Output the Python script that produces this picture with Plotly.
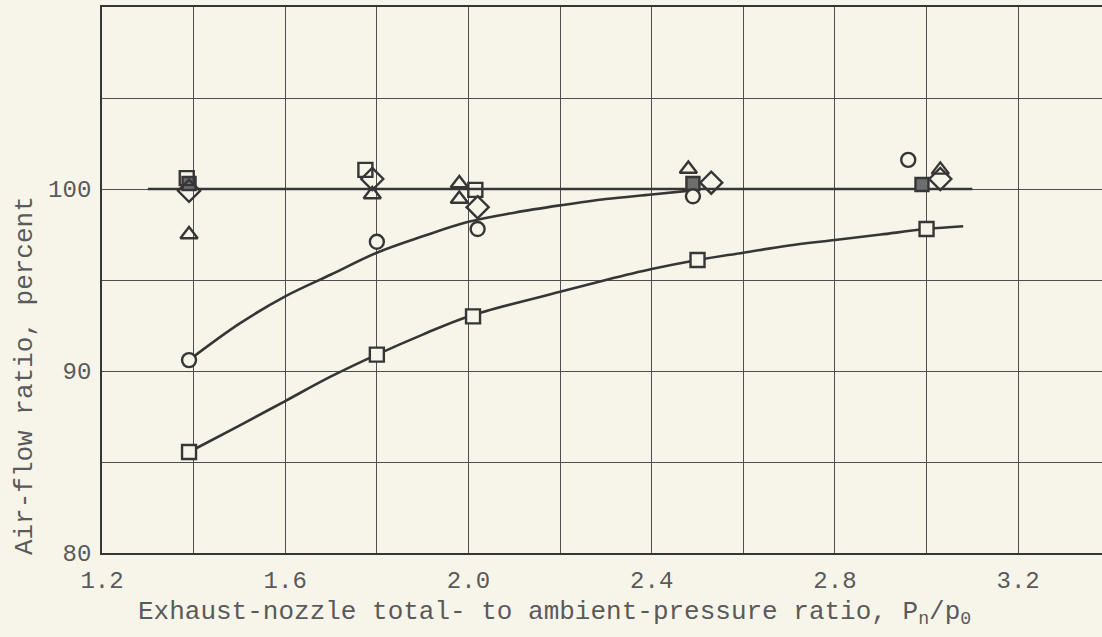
import plotly.graph_objects as go

# ---- data ----
# reference line at 100 percent
ref_x = [1.30, 3.10]
ref_y = [100.0, 100.0]

# faired curve through circle data
circ_curve_x = [1.39, 1.50, 1.60, 1.70, 1.80, 1.90, 2.00, 2.10, 2.20, 2.30, 2.40, 2.50]
circ_curve_y = [90.6, 92.6, 94.1, 95.3, 96.5, 97.4, 98.2, 98.7, 99.1, 99.45, 99.7, 99.95]

# faired curve through lower square data
sq_curve_x = [1.39, 1.50, 1.60, 1.70, 1.80, 1.90, 2.00, 2.20, 2.30, 2.40, 2.50, 2.60, 2.70, 2.80, 2.90, 3.00, 3.08]
sq_curve_y = [85.55, 87.0, 88.35, 89.7, 90.9, 92.0, 93.0, 94.35, 95.0, 95.6, 96.1, 96.5, 96.9, 97.2, 97.5, 97.8, 97.95]

# data symbols
circle_x = [1.39, 1.80, 2.02, 2.49, 2.96]
circle_y = [90.6, 97.1, 97.8, 99.6, 101.6]

square_lo_x = [1.39, 1.80, 2.01, 2.50, 3.00]
square_lo_y = [85.55, 90.9, 93.0, 96.1, 97.8]

square_hi_x = [1.385, 1.775, 2.015]
square_hi_y = [100.6, 101.05, 99.95]

hatched_x = [1.39, 2.49, 2.99]
hatched_y = [100.3, 100.3, 100.25]

diamond_x = [1.39, 1.79, 2.02, 2.53, 3.03]
diamond_y = [99.9, 100.55, 99.0, 100.35, 100.55]

triangle_x = [1.39, 1.79, 1.98, 1.98, 2.48, 3.03]
triangle_y = [97.5, 99.7, 99.45, 100.3, 101.1, 101.05]

x_label_vals = [1.2, 1.6, 2.0, 2.4, 2.8, 3.2]
x_label_text = ["1.2", "1.6", "2.0", "2.4", "2.8", "3.2"]
x_grid_vals = [1.4, 1.8, 2.2, 2.6, 3.0]
y_label_vals = [80, 90, 100]
y_label_text = ["80", "90", "100"]
y_grid_vals = [85, 95, 105]

# ---- styling ----
INK = "#363636"
GRID = "#4e4e4e"
TEXT = "#5a5a5a"
PAPER = "#f7f5ea"
CLEAR = "rgba(0,0,0,0)"
FONT = "Liberation Mono, Courier New, monospace"

fig = go.Figure()

line_style = dict(color=INK, width=2.6)
fig.add_trace(go.Scatter(x=ref_x, y=ref_y, mode="lines", line=line_style, hoverinfo="skip"))
fig.add_trace(go.Scatter(x=circ_curve_x, y=circ_curve_y, mode="lines",
                         line=dict(line_style, shape="spline", smoothing=1.0), hoverinfo="skip"))
fig.add_trace(go.Scatter(x=sq_curve_x, y=sq_curve_y, mode="lines",
                         line=dict(line_style, shape="spline", smoothing=1.0), hoverinfo="skip"))

def mk(symbol, size, fill=CLEAR):
    return dict(symbol=symbol, size=size, color=fill, line=dict(color=INK, width=2.4))

fig.add_trace(go.Scatter(x=hatched_x, y=hatched_y, mode="markers", marker=mk("square", 13, "#6e6e6e")))
fig.add_trace(go.Scatter(x=square_hi_x, y=square_hi_y, mode="markers", marker=mk("square", 14)))
fig.add_trace(go.Scatter(x=diamond_x, y=diamond_y, mode="markers", marker=mk("diamond", 17)))
fig.add_trace(go.Scatter(x=triangle_x, y=triangle_y, mode="markers", marker=mk("triangle-up", 15)))
fig.add_trace(go.Scatter(x=circle_x, y=circle_y, mode="markers", marker=mk("circle", 14, PAPER)))
fig.add_trace(go.Scatter(x=square_lo_x, y=square_lo_y, mode="markers", marker=mk("square", 14, PAPER)))

fig.update_layout(
    width=1102, height=637,
    margin=dict(l=102, r=0, t=7, b=84),
    paper_bgcolor=PAPER, plot_bgcolor=PAPER,
    showlegend=False,
    font=dict(family=FONT, size=24, color=TEXT),
)

fig.update_xaxes(
    range=[1.2, 3.383],
    tickvals=x_label_vals, ticktext=x_label_text,
    showgrid=True, gridcolor=GRID, gridwidth=1.2,
    minor=dict(tickvals=x_grid_vals, showgrid=True, gridcolor=GRID, gridwidth=1.2, ticks=""),
    showline=True, linecolor=INK, linewidth=1.8, mirror=True,
    ticks="", ticklabelstandoff=4, zeroline=False,
    tickfont=dict(family=FONT, size=24, color=TEXT),
)
fig.update_yaxes(
    range=[80, 110],
    tickvals=y_label_vals, ticktext=y_label_text,
    showgrid=True, gridcolor=GRID, gridwidth=1.2,
    minor=dict(tickvals=y_grid_vals, showgrid=True, gridcolor=GRID, gridwidth=1.2, ticks=""),
    showline=True, linecolor=INK, linewidth=1.8,
    ticks="", ticklabelstandoff=4, zeroline=False,
    tickfont=dict(family=FONT, size=24, color=TEXT),
)

fig.add_annotation(
    text="Exhaust-nozzle total- to ambient-pressure ratio, P<sub>n</sub>/p<sub>0</sub>",
    xref="paper", yref="paper", x=0.452, y=0, yshift=-60,
    xanchor="center", yanchor="middle", showarrow=False,
    font=dict(family=FONT, size=26, color=TEXT),
)
fig.add_annotation(
    text="Air-flow ratio, percent",
    xref="paper", yref="paper", x=0, xshift=-77, y=0.324,
    xanchor="center", yanchor="middle", textangle=-90, showarrow=False,
    font=dict(family=FONT, size=26, color=TEXT),
)

fig.write_html("out.html")
